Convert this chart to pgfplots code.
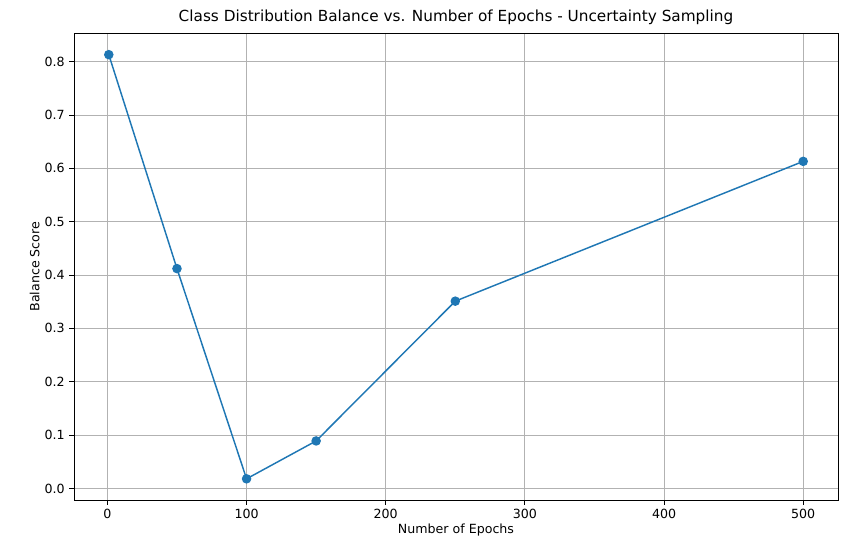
\documentclass[border=0pt]{standalone}
\usepackage{pgfplots}
\pgfplotsset{compat=1.18}
\usepackage{fontspec}
\setmainfont{DejaVu Sans}
\definecolor{mplblue}{HTML}{1F77B4}
\begin{document}
\begin{tikzpicture}
\begin{axis}[
  scale only axis, width=573bp, height=350bp,
  xmin=-24, xmax=525, ymin=-0.0217, ymax=0.853,
  xtick={0,100,200,300,400,500},
  ytick={0,0.1,0.2,0.3,0.4,0.5,0.6,0.7,0.8},
  xtick pos=bottom, ytick pos=left,
  yticklabel style={/pgf/number format/.cd,fixed,fixed zerofill,precision=1},
  /pgf/number format/assume math mode=true,
  tick label style={font=\fontsize{9.5}{11}\selectfont},
  label style={font=\fontsize{9.5}{11}\selectfont},
  title style={font=\fontsize{11.5}{13}\selectfont, yshift=-3bp},
  xlabel style={yshift=3bp}, ylabel style={yshift=-3bp},
  grid=major, grid style={color=black!30, line width=0.6pt},
  tick align=outside, tick style={black, line width=0.6pt},
  major tick length=3.5bp,
  axis line style={line width=0.6pt},
  xlabel={Number of Epochs}, ylabel={Balance Score},
  title={Class Distribution Balance vs. Number of Epochs - Uncertainty Sampling},
]
\addplot[mplblue, line width=1.1pt, mark=*, mark size=3bp, mark options={fill=mplblue}]
coordinates {(1,0.813) (50,0.412) (100,0.018) (150,0.089) (250,0.351) (500,0.613)};
\end{axis}
\useasboundingbox (-55.5bp,-35.25bp) rectangle (579bp,375bp);
\end{tikzpicture}
\end{document}
